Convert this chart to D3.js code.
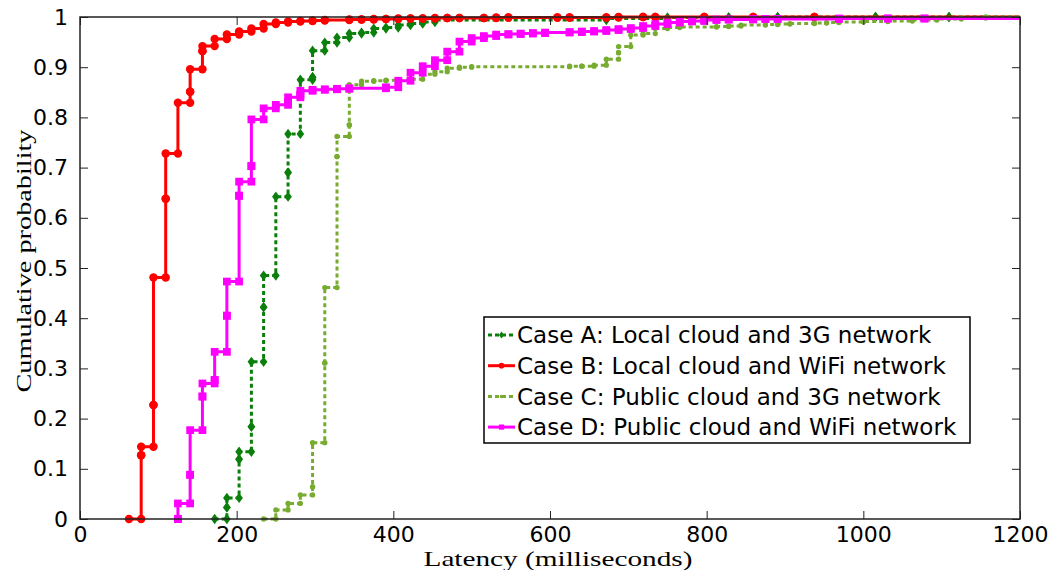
<!DOCTYPE html>
<html>
<head>
<meta charset="utf-8">
<script src="https://cdn.jsdelivr.net/npm/d3@7"></script>
<style>
  body { margin: 0; background: #fff; }
  svg { display: block; }
</style>
</head>
<body>
<svg id="chart" width="1048" height="570"></svg>
<script>
// Step points of each empirical CDF (latency in ms, cumulative probability)
const latA = [171.9, 187.5, 187.5, 203.1, 203.1, 218.8, 218.8, 234.4, 234.4, 250.0, 265.6, 265.6, 281.3, 296.9, 296.9, 312.5, 328.1, 343.8, 359.4, 375.0, 390.6, 406.3, 421.9, 437.5, 453.1, 671.9, 750.0, 828.1, 890.6, 1015.6, 1109.4];
const cdfA = [0, 0.023, 0.042, 0.119, 0.134, 0.184, 0.313, 0.422, 0.485, 0.642, 0.690, 0.767, 0.875, 0.880, 0.933, 0.949, 0.959, 0.967, 0.969, 0.977, 0.979, 0.984, 0.987, 0.990, 0.994, 0.997, 0.999, 0.999, 1, 1, 1];

const latB = [62.5, 78.1, 78.1, 93.8, 93.8, 109.4, 109.4, 125.0, 140.6, 140.6, 156.3, 156.3, 171.9, 187.5, 203.1, 218.8, 234.4, 250.0, 265.6, 281.3, 296.9, 312.5, 343.8, 359.4, 375.0, 390.6, 406.3, 421.9, 437.5, 453.1, 468.8, 484.4, 515.6, 531.3, 546.9, 609.4, 625.0, 671.9, 687.5, 718.8, 734.4, 796.9, 859.4, 937.5];
const cdfB = [0, 0.127, 0.144, 0.227, 0.481, 0.638, 0.728, 0.829, 0.851, 0.896, 0.932, 0.942, 0.956, 0.965, 0.971, 0.977, 0.986, 0.989, 0.991, 0.992, 0.993, 0.994, 0.995, 0.995, 0.996, 0.996, 0.997, 0.997, 0.997, 0.998, 0.998, 0.998, 0.998, 0.999, 0.999, 0.999, 0.999, 0.999, 1, 1, 1, 1, 1, 1];

const latC = [234.4, 250.0, 265.6, 281.3, 296.9, 296.9, 312.5, 312.5, 328.1, 328.1, 343.8, 343.8, 359.4, 375.0, 390.6, 406.3, 421.9, 437.5, 453.1, 468.8, 484.4, 500.0, 625.0, 640.6, 656.3, 671.9, 687.5, 687.5, 703.1, 718.8, 734.4, 750.0, 765.6, 812.5, 828.1, 843.8, 875.0, 890.6, 906.3, 937.5, 953.1, 968.8, 1000.0, 1031.3, 1062.5, 1093.8, 1125.0, 1156.3];
const cdfC = [0, 0.018, 0.031, 0.048, 0.064, 0.152, 0.311, 0.461, 0.722, 0.762, 0.785, 0.865, 0.872, 0.873, 0.874, 0.874, 0.876, 0.886, 0.891, 0.898, 0.900, 0.901, 0.902, 0.902, 0.904, 0.916, 0.929, 0.941, 0.964, 0.967, 0.977, 0.979, 0.980, 0.981, 0.982, 0.984, 0.985, 0.986, 0.987, 0.988, 0.989, 0.990, 0.991, 0.992, 0.994, 0.996, 0.998, 1];

const latD = [125.0, 125.0, 140.6, 140.6, 156.3, 156.3, 171.9, 171.9, 187.5, 187.5, 203.1, 203.1, 218.8, 218.8, 234.4, 250.0, 265.6, 265.6, 281.3, 281.3, 296.9, 312.5, 328.1, 343.8, 390.6, 406.3, 421.9, 437.5, 453.1, 468.8, 484.4, 500.0, 515.6, 531.3, 546.9, 562.5, 578.1, 593.8, 625.0, 640.6, 656.3, 671.9, 687.5, 703.1, 718.8, 734.4, 750.0, 765.6, 781.3, 796.9, 812.5, 828.1, 859.4, 875.0, 890.6, 968.8, 1031.3, 1078.1];
const cdfD = [0, 0.031, 0.088, 0.177, 0.244, 0.270, 0.277, 0.333, 0.405, 0.473, 0.644, 0.672, 0.703, 0.796, 0.818, 0.825, 0.830, 0.840, 0.845, 0.853, 0.855, 0.856, 0.857, 0.858, 0.860, 0.873, 0.889, 0.902, 0.914, 0.931, 0.951, 0.958, 0.962, 0.965, 0.966, 0.967, 0.968, 0.969, 0.970, 0.971, 0.972, 0.974, 0.976, 0.978, 0.982, 0.986, 0.989, 0.991, 0.992, 0.994, 0.995, 0.995, 0.996, 0.996, 0.996, 0.997, 0.997, 0.997];

const seriesLabels = [
  'Case A: Local cloud and 3G network',
  'Case B: Local cloud and WiFi network',
  'Case C: Public cloud and 3G network',
  'Case D: Public cloud and WiFi network'
];
const xTicks = [0, 200, 400, 600, 800, 1000, 1200];
const yTicks = [0, 0.1, 0.2, 0.3, 0.4, 0.5, 0.6, 0.7, 0.8, 0.9, 1];
const xLabel = 'Latency (milliseconds)';
const yLabel = 'Cumulative probability';

// styles, kept apart from the values
// diamonds are drawn as a rotated square squeezed sideways (matlab-like)
const styles = [
  { color: '#0b7f0b', width: 3, dash: '4,3', symbol: d3.symbolSquare, size: 40, shape: 'scale(0.85,1.15) rotate(45)' },
  { color: '#ff0000', width: 3, dash: null, symbol: d3.symbolCircle, size: 56, shape: '' },
  { color: '#77ac30', width: 3, dash: '4,3', symbol: d3.symbolCircle, size: 22, shape: '' },
  { color: '#ff00ff', width: 3, dash: null, symbol: d3.symbolSquare, size: 60, shape: '' }
];
const series = [
  { lat: latA, cdf: cdfA },
  { lat: latB, cdf: cdfB },
  { lat: latC, cdf: cdfC },
  { lat: latD, cdf: cdfD }
];

const margin = { left: 80, right: 28, top: 17, bottom: 51 };
const width = 1048;
const height = 570;
const svg = d3.select('#chart');

const x = d3.scaleLinear()
  .domain([0, 1200])
  .range([margin.left, width - margin.right]);
const y = d3.scaleLinear()
  .domain([0, 1])
  .range([height - margin.bottom, margin.top]);

const tickFont = '"DejaVu Sans", sans-serif';
const labelFont = '"Liberation Serif", "Times New Roman", serif';

// stairs vertices: (x_i, p_{i-1}) then (x_i, p_i)
function stairs(lat, cdf) {
  const pts = [[lat[0], cdf[0]]];
  for (let i = 1; i < lat.length; i += 1) {
    pts.push([lat[i], cdf[i - 1]]);
    pts.push([lat[i], cdf[i]]);
  }
  return pts;
}

const line = d3.line()
  .x(d => x(d[0]))
  .y(d => y(d[1]));

const plot = svg.append('g');
plot.append('defs').append('clipPath').attr('id', 'clip')
  .append('rect')
  .attr('x', x(0) - 6).attr('y', y(1) - 8)
  .attr('width', x(1200) - x(0) + 6).attr('height', y(0) - y(1) + 14);

const layer = plot.append('g').attr('clip-path', 'url(#clip)');

series.forEach((s, i) => {
  const st = styles[i];
  const pts = stairs(s.lat, s.cdf);
  const path = pts.concat([[x.domain()[1], s.cdf[s.cdf.length - 1]]]);
  layer.append('path')
    .attr('d', line(path))
    .attr('fill', 'none')
    .attr('stroke', st.color)
    .attr('stroke-width', st.width)
    .attr('stroke-dasharray', st.dash)
    .attr('stroke-linejoin', 'miter');
  layer.append('g')
    .selectAll('path')
    .data(pts)
    .join('path')
    .attr('transform', d => `translate(${x(d[0])},${y(d[1])}) ${st.shape}`)
    .attr('d', d3.symbol(st.symbol, st.size))
    .attr('fill', st.color);
});

// axes with inward ticks on all four sides (box on)
const axisColor = '#222';
const axisB = svg.append('g')
  .attr('transform', `translate(0,${y(0)})`)
  .call(d3.axisBottom(x).tickValues(xTicks).tickSizeInner(-8).tickSizeOuter(0).tickPadding(7).tickFormat(d3.format('d')));
const axisL = svg.append('g')
  .attr('transform', `translate(${x(0)},0)`)
  .call(d3.axisLeft(y).tickValues(yTicks).tickSizeInner(-8).tickSizeOuter(0).tickPadding(12).tickFormat(d3.format('~g')));
const axisT = svg.append('g')
  .attr('transform', `translate(0,${y(1)})`)
  .call(d3.axisTop(x).tickValues(xTicks).tickSizeInner(-8).tickSizeOuter(0).tickFormat(''));
const axisR = svg.append('g')
  .attr('transform', `translate(${x(1200)},0)`)
  .call(d3.axisRight(y).tickValues(yTicks).tickSizeInner(-8).tickSizeOuter(0).tickFormat(''));

[axisB, axisL, axisT, axisR].forEach(g => {
  g.select('.domain').remove();
  g.selectAll('line').attr('stroke', axisColor).attr('stroke-width', 1);
  g.selectAll('text')
    .attr('fill', '#000')
    .attr('font-family', tickFont)
    .attr('font-size', 22);
});

svg.append('rect')
  .attr('x', x(0))
  .attr('y', y(1))
  .attr('width', x(1200) - x(0))
  .attr('height', y(0) - y(1))
  .attr('fill', 'none')
  .attr('stroke', axisColor)
  .attr('stroke-width', 1.5);

// axis titles
svg.append('text')
  .attr('x', 558)
  .attr('y', 566)
  .attr('text-anchor', 'middle')
  .attr('font-family', labelFont)
  .attr('font-size', 21)
  .attr('textLength', 269)
  .attr('lengthAdjust', 'spacingAndGlyphs')
  .text(xLabel);

svg.append('text')
  .attr('transform', 'translate(31,261) rotate(-90)')
  .attr('text-anchor', 'middle')
  .attr('font-family', labelFont)
  .attr('font-size', 22)
  .attr('textLength', 263)
  .attr('lengthAdjust', 'spacingAndGlyphs')
  .text(yLabel);

// legend
const legend = svg.append('g').attr('transform', 'translate(484,317)');
legend.append('rect')
  .attr('width', 486)
  .attr('height', 126)
  .attr('fill', '#fff')
  .attr('stroke', '#000')
  .attr('stroke-width', 1.5);

seriesLabels.forEach((label, i) => {
  const st = styles[i];
  const rowY = 18 + i * 30.7;
  const row = legend.append('g').attr('transform', `translate(0,${rowY})`);
  row.append('line')
    .attr('x1', 4).attr('x2', 31)
    .attr('y1', 0).attr('y2', 0)
    .attr('stroke', st.color)
    .attr('stroke-width', st.width)
    .attr('stroke-dasharray', st.dash);
  row.append('path')
    .attr('transform', `translate(17.5,0) ${st.shape}`)
    .attr('d', d3.symbol(st.symbol, st.size * 0.45))
    .attr('fill', st.color);
  row.append('text')
    .attr('x', 33)
    .attr('y', 0)
    .attr('dy', '0.36em')
    .attr('font-family', tickFont)
    .attr('font-size', 23)
    .attr('fill', '#000')
    .text(label);
});
</script>
</body>
</html>
